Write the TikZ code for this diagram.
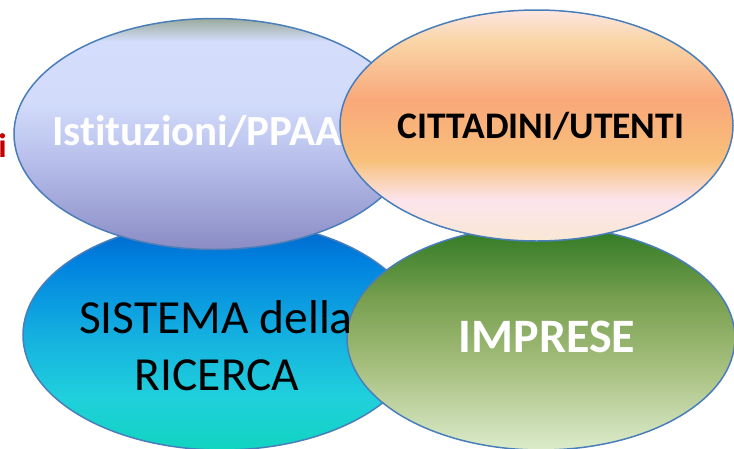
\documentclass[tikz,border=0pt]{standalone}
\usepackage{fontspec}
\setmainfont[Ligatures=NoCommon]{Carlito}
\usetikzlibrary{shapes.geometric}
\definecolor{edgeblue}{HTML}{4A7EBB}
\definecolor{redtxt}{HTML}{C00000}
% Istituzioni
\definecolor{a1}{HTML}{8A8CC4}
\definecolor{a2}{HTML}{A3A8DA}
\definecolor{a3}{HTML}{BCC4EE}
\definecolor{a4}{HTML}{D2DCFA}
\definecolor{a5}{HTML}{D4DDFC}
\definecolor{a6}{HTML}{9AAB9C}
% Cittadini
\definecolor{b1}{HTML}{F9E8D4}
\definecolor{b2}{HTML}{FCE4EC}
\definecolor{b3}{HTML}{F8C07A}
\definecolor{b4}{HTML}{F9A87A}
\definecolor{b5}{HTML}{F9D6A8}
\definecolor{b6}{HTML}{FDE6E2}
% Sistema
\definecolor{c1}{HTML}{10D4C0}
\definecolor{c2}{HTML}{20D0DC}
\definecolor{c3}{HTML}{14B0E0}
\definecolor{c4}{HTML}{0082E0}
\definecolor{c5}{HTML}{0063C8}
% Imprese
\definecolor{d1}{HTML}{DCECCC}
\definecolor{d2}{HTML}{A8C080}
\definecolor{d3}{HTML}{78A050}
\definecolor{d4}{HTML}{2E7822}
\pgfdeclareverticalshading{shadeA}{100bp}{color(0bp)=(a1); color(25bp)=(a1); color(35.6bp)=(a2); color(46.5bp)=(a3); color(57bp)=(a4); color(70bp)=(a5); color(75bp)=(a6); color(100bp)=(a6)}
\pgfdeclareverticalshading{shadeB}{100bp}{color(0bp)=(b1); color(25bp)=(b1); color(33.9bp)=(b2); color(42.5bp)=(b3); color(55.5bp)=(b4); color(68.5bp)=(b5); color(75bp)=(b6); color(100bp)=(b6)}
\pgfdeclareverticalshading{shadeC}{100bp}{color(0bp)=(c1); color(25bp)=(c1); color(36.5bp)=(c2); color(50bp)=(c3); color(66bp)=(c4); color(75bp)=(c5); color(100bp)=(c5)}
\pgfdeclareverticalshading{shadeD}{100bp}{color(0bp)=(d1); color(25bp)=(d1); color(43bp)=(d2); color(58.6bp)=(d3); color(75bp)=(d4); color(100bp)=(d4)}
\tikzset{
  ellnode/.style={ellipse, draw=edgeblue, line width=1.5pt, inner sep=0pt},
  lbl/.style={anchor=base, inner sep=0pt},
}
\begin{document}
\begin{tikzpicture}[x=1pt,y=-1pt]
\useasboundingbox (0,0) rectangle (734,448);
\clip (0,0) rectangle (734,448);
\node[ellnode, shading=shadeC, minimum width=398pt, minimum height=230pt] (sis) at (222,335) {};
\node[ellnode, shading=shadeD, minimum width=388pt, minimum height=224pt] (imp) at (541,338) {};
\node[ellnode, shading=shadeA, minimum width=400pt, minimum height=231pt] (ist) at (214,134) {};
\node[lbl, text=white, font=\fontsize{43}{51}\selectfont\bfseries] (istT) at (197,145) {Istituzioni/PPAA};
\node[ellnode, shading=shadeB, minimum width=393pt, minimum height=231pt] (cit) at (536.5,125.5) {};
\node[lbl, text=black, font=\fontsize{37.5}{45}\selectfont\bfseries] (citT) at (541,138) {CITTADINI/UTENTI};
\node[lbl, text=black, font=\fontsize{47.5}{57}\selectfont] (sisT1) at (216,333) {SISTEMA della};
\node[lbl, text=black, font=\fontsize{47.5}{57}\selectfont] (sisT2) at (217,390) {RICERCA};
\node[lbl, text=white, font=\fontsize{48}{57}\selectfont\bfseries] (impT) at (547,352) {IMPRESE};
\node[anchor=base east, inner sep=0pt, text=redtxt, font=\fontsize{34}{40}\selectfont\bfseries] (redi) at (7,157) {i};
\end{tikzpicture}
\end{document}
